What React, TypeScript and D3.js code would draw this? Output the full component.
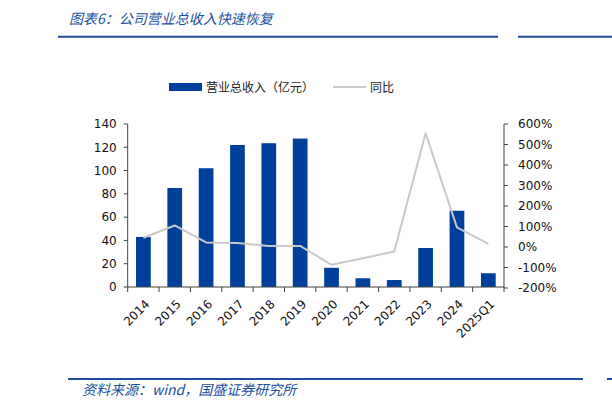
import React from 'react';
import * as d3 from 'd3';

// chart data
const categories = ['2014', '2015', '2016', '2017', '2018', '2019', '2020', '2021', '2022', '2023', '2024', '2025Q1'];
const revenue = [43, 85, 102, 122, 123.5, 127.5, 16.5, 7.5, 6, 33.5, 65.5, 11.8];
const yoy = [45, 105, 22, 20, 5, 5, -87, -55, -22, 555, 96, 15];
const leftTicks = [0, 20, 40, 60, 80, 100, 120, 140];
const rightTicks = [-200, -100, 0, 100, 200, 300, 400, 500, 600];

const BLUE = '#00409a';
const TITLE_BLUE = '#1d4f9e';
const GRAY = '#c9c9c9';
const AXIS = '#404040';
const FONT = '"DejaVu Sans", Verdana, sans-serif';
const CJK = '"Noto Sans CJK SC", sans-serif';

const App: React.FC = () => {
    const width = 612;
    const height = 411;
    const left = 127.7;
    const right = 504;
    const top = 124;
    const bottom = 287;

    const x = d3.scaleBand<string>().domain(categories).range([left, right]).paddingInner(0.53).paddingOuter(0.265);
    const xOuter = d3.scaleBand<string>().domain(categories).range([left, right]);
    const yL = d3.scaleLinear().domain([0, 140]).range([bottom, top]);
    const yR = d3.scaleLinear().domain([-200, 600]).range([bottom + 1, top]);

    const line = d3.line<number>()
        .x((_, i) => (xOuter(categories[i]) as number) + xOuter.bandwidth() / 2)
        .y(d => yR(d));

    const boundaries = categories.map(c => xOuter(c) as number).concat([right]);

    return (
        <svg width={width} height={height} style={{ position: 'absolute', left: 0, top: 0, background: '#fff' }}>
            {/* title */}
            <text x={69} y={24} fontFamily={CJK} fontSize={14} fontStyle="italic" fill={TITLE_BLUE}>
                图表6：公司营业总收入快速恢复
            </text>
            <line x1={58} x2={498} y1={36.7} y2={36.7} stroke={TITLE_BLUE} strokeWidth={2} />
            <line x1={518} x2={612} y1={36.7} y2={36.7} stroke={TITLE_BLUE} strokeWidth={2} />

            {/* legend */}
            <rect x={169} y={83} width={33} height={8} fill={BLUE} />
            <text x={206} y={91.5} fontFamily={CJK} fontSize={12} fill="#222">营业总收入（亿元）</text>
            <line x1={333} x2={366} y1={87} y2={87} stroke={GRAY} strokeWidth={2} />
            <text x={370} y={91.5} fontFamily={CJK} fontSize={12} fill="#222">同比</text>

            {/* bars */}
            {revenue.map((v, i) => (
                <rect key={categories[i]} x={x(categories[i])} y={yL(v)} width={x.bandwidth()}
                    height={yL(0) - yL(v)} fill={BLUE} />
            ))}

            {/* yoy line */}
            <path d={line(yoy) || ''} fill="none" stroke={GRAY} strokeWidth={2} strokeLinejoin="round" />

            {/* left axis */}
            <line x1={left} x2={left} y1={top} y2={bottom} stroke={AXIS} strokeWidth={1} />
            {leftTicks.map(t => (
                <g key={t}>
                    <line x1={left - 4} x2={left} y1={yL(t)} y2={yL(t)} stroke={AXIS} />
                    <text x={left - 11} y={yL(t)} dy="0.36em" textAnchor="end" fontFamily={FONT} fontSize={12} fill="#111">{t}</text>
                </g>
            ))}

            {/* right axis */}
            <line x1={right} x2={right} y1={top} y2={bottom + 1} stroke={AXIS} strokeWidth={1} />
            {rightTicks.map(t => (
                <g key={t}>
                    <line x1={right} x2={right + 4} y1={yR(t)} y2={yR(t)} stroke={AXIS} />
                    <text x={right + 14} y={yR(t)} dy="0.36em" fontFamily={FONT} fontSize={12} fill="#111">{t}%</text>
                </g>
            ))}

            {/* x axis */}
            <line x1={left} x2={right} y1={bottom} y2={bottom} stroke={AXIS} />
            {boundaries.map((b, i) => (
                <line key={i} x1={b} x2={b} y1={bottom} y2={bottom + 5} stroke={AXIS} />
            ))}
            {categories.map(c => {
                const cx = (xOuter(c) as number) + xOuter.bandwidth() / 2;
                return (
                    <text key={c} transform={`translate(${cx + 1},${bottom + 12}) rotate(-45)`} textAnchor="end"
                        dy="0.7em" fontFamily={FONT} fontSize={12} fill="#111">{c}</text>
                );
            })}

            {/* source */}
            <line x1={68} x2={583} y1={379} y2={379} stroke={TITLE_BLUE} strokeWidth={2} />
            <line x1={607} x2={612} y1={379} y2={379} stroke={TITLE_BLUE} strokeWidth={2} />
            <text x={82} y={395} fontFamily={CJK} fontSize={14} fontStyle="italic" fill={TITLE_BLUE}>
                资料来源：wind，国盛证券研究所
            </text>
        </svg>
    );
};

export default App;
